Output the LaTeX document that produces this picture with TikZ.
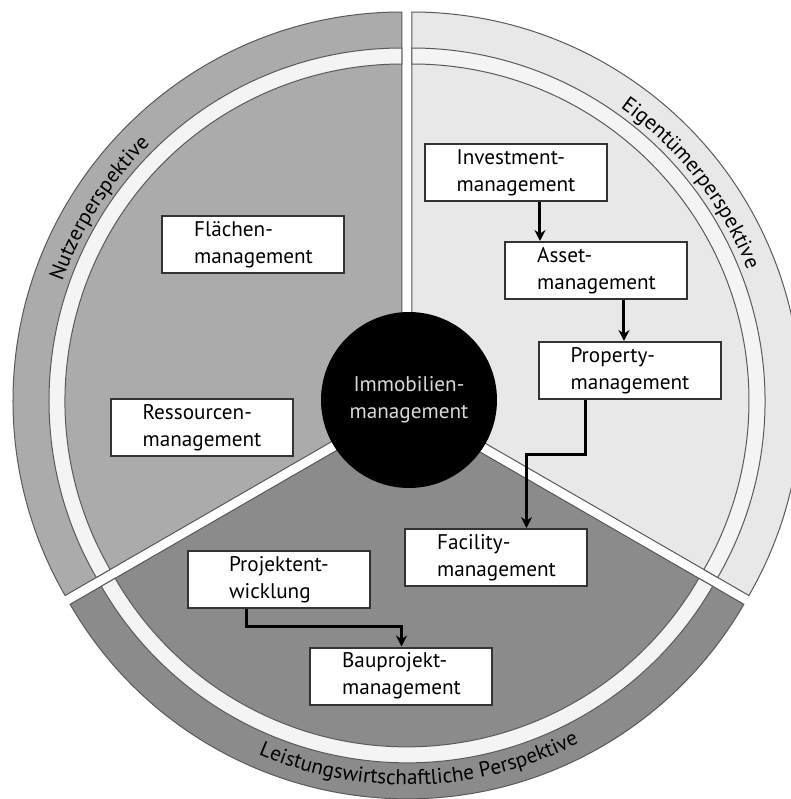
\documentclass[tikz,border=0pt]{standalone}
\usepackage{fontspec}
\setmainfont{PT Sans}
\usetikzlibrary{arrows.meta, decorations.text}
\definecolor{nutzer}{gray}{0.67}
\definecolor{eigen}{gray}{0.91}
\definecolor{leist}{gray}{0.545}
\definecolor{ringw}{gray}{0.955}
\definecolor{edge}{gray}{0.35}
\newcommand{\lbl}{\fontsize{10.6}{13.5}\selectfont}

\begin{document}
\begin{tikzpicture}[x=0.5pt,y=0.5pt,>={Stealth[length=5.5pt,width=5.5pt,inset=1.8pt]},
    box/.style={draw=black!80, line width=1pt, fill=white, minimum width=91pt, minimum height=28.5pt, inner sep=1pt, align=left, font=\lbl},
    link/.style={->, line width=1.5pt},
    rim/.style={draw=edge, line width=0.5pt},
    arctext/.style={decorate, decoration={text along path, text align=center, text={|\lbl|#1}}}]
    \fill[white] (-407,-395) rectangle (384,404);
    \useasboundingbox (-407,-395) rectangle (384,404);

    % three sectors, pulled apart a little
    \coordinate (cn) at (-5,3);
    \coordinate (ce) at (5,3);
    \coordinate (cl) at (0,-5.8);

    \filldraw[rim, fill=nutzer] (cn) -- ++(90:389) arc[start angle=90, end angle=210, radius=389] -- cycle;
    \filldraw[rim, fill=ringw] ([shift={(90:353)}]cn) arc[start angle=90, end angle=210, radius=353] -- ++(210:-16) arc[start angle=210, end angle=90, radius=337] -- cycle;

    \filldraw[rim, fill=eigen] (ce) -- ++(-30:389) arc[start angle=-30, end angle=90, radius=389] -- cycle;
    \filldraw[rim, fill=ringw] ([shift={(-30:353)}]ce) arc[start angle=-30, end angle=90, radius=353] -- ++(90:-16) arc[start angle=90, end angle=-30, radius=337] -- cycle;

    \filldraw[rim, fill=leist] (cl) -- ++(210:389) arc[start angle=210, end angle=330, radius=389] -- cycle;
    \filldraw[rim, fill=ringw] ([shift={(210:353)}]cl) arc[start angle=210, end angle=330, radius=353] -- ++(330:-16) arc[start angle=330, end angle=210, radius=337] -- cycle;

    % perspectives
    \path[arctext=Nutzerperspektive] ([shift={(175:360)}]cn) arc[start angle=175, end angle=120, radius=360];
    \path[arctext=Eigentümerperspektive] ([shift={(65:360)}]ce) arc[start angle=65, end angle=11, radius=360];
    \path[arctext=Leistungswirtschaftliche Perspektive] ([shift={(225:375)}]cl) arc[start angle=225, end angle=319, radius=375];

    \node[circle, fill=black, minimum size=88pt, inner sep=0pt, align=center, text=white!85!black, font=\lbl] (imm) at (2,4) {Immobilien-\\management};

    \node[box] (fl) at (-153.5,159.5) {Flächen-\\management};
    \node[box] (res) at (-205,-23.5) {Ressourcen-\\management};
    \node[box] (inv) at (109,231.5) {Investment-\\management};
    \node[box] (as) at (189.5,133.5) {Asset-\\management};
    \node[box] (prop) at (223,33.5) {Property-\\management};
    \node[box] (fac) at (89.5,-153.5) {Facility-\\management};
    \node[box] (proj) at (-128,-175.5) {Projektent-\\wicklung};
    \node[box] (bau) at (-5.5,-272) {Bauprojekt-\\management};

    \draw[link] ([xshift=12pt]inv.south) -- ([xshift=12pt]inv.south |- as.north);
    \draw[link] ([xshift=-3pt]prop.north |- as.south) -- ([xshift=-3pt]prop.north);
    \draw[link] ([xshift=-22pt]prop.south) -- ++(0,-27pt) -| ([xshift=15pt]fac.north);
    \draw[link] ([xshift=-16pt]proj.south) -- ++(0,-8.5pt) -| (bau.north);
\end{tikzpicture}
\end{document}
